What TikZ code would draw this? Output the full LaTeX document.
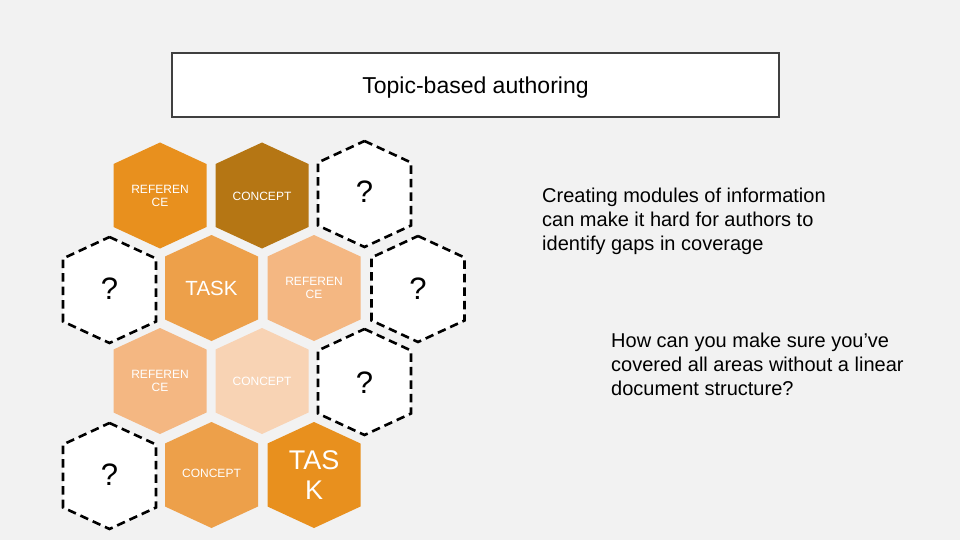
\documentclass[tikz,border=0pt]{standalone}
\usepackage{fontspec}
\setmainfont{Liberation Sans}
\definecolor{bg}{HTML}{F2F2F2}
\definecolor{hexA}{HTML}{E8901E}
\definecolor{hexB}{HTML}{B57614}
\definecolor{hexC}{HTML}{EDA04A}
\definecolor{hexD}{HTML}{F4B782}
\definecolor{hexE}{HTML}{F8D3B4}
\definecolor{boxline}{HTML}{404040}
\newcommand{\hexshape}[3]{%
  \path[#1] (#2pt,-#3pt) ++(0,53pt) -- ++(46.5pt,-21.5pt) -- ++(0,-63pt)
    -- ++(-46.5pt,-21.5pt) -- ++(-46.5pt,21.5pt) -- ++(0,63pt) -- cycle;}
\tikzset{
  solidhex/.style={fill=#1},
  gaphex/.style={fill=white, draw=black, line width=2.6pt, dash pattern=on 8.5pt off 5pt},
  smalllabel/.style={text=white, font=\fontsize{12}{13}\selectfont, align=center, inner sep=0pt},
  biglabel/.style={text=white, font=\fontsize{20.5}{24}\selectfont, align=center, inner sep=0pt},
  hugelabel/.style={text=white, font=\fontsize{27}{30}\selectfont, align=center, inner sep=0pt},
  qlabel/.style={text=black, font=\fontsize{31}{33}\selectfont, inner sep=0pt},
  bodytext/.style={text=black, font=\fontsize{20}{24}\selectfont, align=left, inner sep=0pt, anchor=west},
  titlebox/.style={draw=boxline, line width=2.5pt, fill=white}
}
\begin{document}
\begin{tikzpicture}
\fill[bg] (0,0) rectangle (960pt,-540pt);
\useasboundingbox (0,0) rectangle (960pt,-540pt);

% title
\draw[titlebox] (172pt,-53pt) rectangle (779pt,-117pt);
\node[text=black, font=\fontsize{23}{26}\selectfont, inner sep=0pt] (title) at (475.5pt,-87.5pt) {Topic-based authoring};

% filled hexagons
\hexshape{solidhex=hexA}{160}{195.5}
\hexshape{solidhex=hexB}{262}{195.5}
\hexshape{solidhex=hexC}{211.5}{288}
\hexshape{solidhex=hexD}{314}{288}
\hexshape{solidhex=hexD}{160}{381}
\hexshape{solidhex=hexE}{262}{381}
\hexshape{solidhex=hexC}{211.5}{475}
\hexshape{solidhex=hexA}{314}{475}

% dashed hexagons
\hexshape{gaphex}{364.5}{194}
\hexshape{gaphex}{109.5}{290}
\hexshape{gaphex}{418}{289}
\hexshape{gaphex}{364.5}{382}
\hexshape{gaphex}{109.5}{476}

% labels
\node[smalllabel] (ref1) at (160pt,-195.5pt) {REFEREN\\CE};
\node[smalllabel] (con1) at (262pt,-196pt) {CONCEPT};
\node[biglabel] (task1) at (211.5pt,-288pt) {TASK};
\node[smalllabel] (ref2) at (314pt,-288pt) {REFEREN\\CE};
\node[smalllabel] (ref3) at (160pt,-381pt) {REFEREN\\CE};
\node[smalllabel] (con2) at (262pt,-381pt) {CONCEPT};
\node[smalllabel] (con3) at (211.5pt,-473.5pt) {CONCEPT};
\node[hugelabel] (task2) at (314pt,-475pt) {TAS\\K};

\node[qlabel] (q1) at (364.5pt,-192pt) {?};
\node[qlabel] (q2) at (109.5pt,-289pt) {?};
\node[qlabel] (q3) at (418pt,-289pt) {?};
\node[qlabel] (q4) at (364.5pt,-383pt) {?};
\node[qlabel] (q5) at (109.5pt,-475pt) {?};

% body text
\node[bodytext] (txt1) at (542pt,-221.5pt) {Creating modules of information\\can make it hard for authors to\\identify gaps in coverage};
\node[bodytext] (txt2) at (611pt,-364.5pt) {How can you make sure you’ve\\covered all areas without a linear\\document structure?};
\end{tikzpicture}
\end{document}
